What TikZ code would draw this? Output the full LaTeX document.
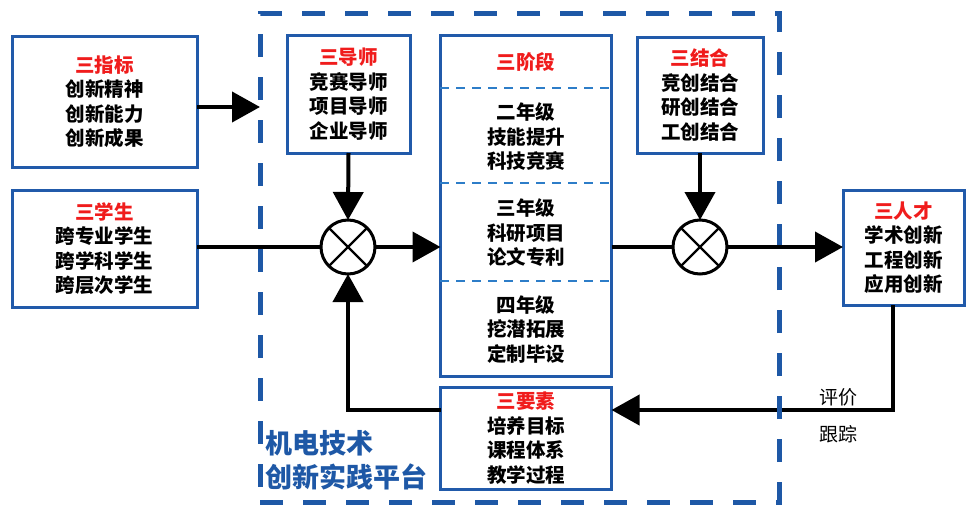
\documentclass[tikz,border=0pt]{standalone}
\usepackage{fontspec}
\newfontfamily\cjk{Noto Sans CJK SC}
\usetikzlibrary{arrows.meta}
\definecolor{frameblue}{RGB}{30,88,166}
\definecolor{boxblue}{RGB}{33,90,170}
\definecolor{divblue}{RGB}{45,125,200}
\definecolor{tred}{RGB}{240,28,28}
\begin{document}
\begin{tikzpicture}[x=1pt,y=-1pt,
  box/.style={draw=boxblue, line width=3pt, fill=white, align=center, inner sep=0pt, outer sep=0pt,
    font=\cjk\bfseries\fontsize{19.5}{24.5}\selectfont},
  txt/.style={align=center, inner sep=0pt, font=\cjk\bfseries\fontsize{19.5}{24.5}\selectfont},
  sum/.style={circle, draw=black, line width=3pt, minimum size=54pt, inner sep=0pt, outer sep=0pt, fill=white},
  arr/.style={line width=4pt, -{Triangle[length=28pt,width=30pt]}},
  ln/.style={line width=4pt},
  framebox/.style={draw=frameblue, line width=5pt, dash pattern=on 23pt off 20pt, inner sep=0pt, outer sep=0pt},
  div/.style={draw=divblue, line width=2.5pt, dash pattern=on 9pt off 7pt},
  lbl/.style={inner sep=0pt, font=\cjk\fontsize{19}{22}\selectfont},
  plat/.style={inner sep=0pt, anchor=west, text=frameblue, font=\cjk\bfseries\fontsize{27}{30}\selectfont}
]
\useasboundingbox (0,0) rectangle (969,506);

% boxes
\node[box, minimum width=185pt, minimum height=131pt] (zb) at (104.5,101.5)
  {\textcolor{tred}{三指标}\\创新精神\\创新能力\\创新成果};
\node[box, minimum width=185pt, minimum height=117pt] (zs) at (104.5,248.5)
  {\textcolor{tred}{三学生}\\跨专业学生\\跨学科学生\\跨层次学生};
\node[box, minimum width=123pt, minimum height=118pt] (ds) at (348.5,94)
  {\textcolor{tred}{三导师}\\竞赛导师\\项目导师\\企业导师};
\node[box, minimum width=126pt, minimum height=116pt] (jh) at (700,95)
  {\textcolor{tred}{三结合}\\竞创结合\\研创结合\\工创结合};
\node[box, minimum width=121pt, minimum height=115pt] (rc) at (903.5,247.5)
  {\textcolor{tred}{三人才}\\学术创新\\工程创新\\应用创新};
\node[box, minimum width=171pt, minimum height=102pt] (ys) at (526,438)
  {\textcolor{tred}{三要素}\\培养目标\\课程体系\\教学过程};

% stage box
\node[box, minimum width=171pt, minimum height=341pt] (stage) at (526,205.5) {};
\draw[div] (440,88) -- (611,88);
\draw[div] (440,183) -- (611,183);
\draw[div] (440,281) -- (611,281);
\node[txt, text=tred] (st0) at (526,62) {三阶段};
\node[txt] (st1) at (526,137) {二年级\\技能提升\\科技竞赛};
\node[txt] (st2) at (526,233) {三年级\\科研项目\\论文专利};
\node[txt] (st3) at (526,329) {四年级\\挖潜拓展\\定制毕设};

% summing junctions
\node[sum] (c1) at (348,247) {};
\node[sum] (c2) at (700,247) {};
\draw[line width=2.2pt] (c1.north west) -- (c1.south east) (c1.north east) -- (c1.south west);
\draw[line width=2.2pt] (c2.north west) -- (c2.south east) (c2.north east) -- (c2.south west);

% frame
\node[framebox, minimum width=519pt, minimum height=489pt, anchor=north west] (frame) at (260,13) {};

% connectors
\draw[arr] (zb.east |- 0,107) -- (frame.west |- 0,107);
\draw[ln] (zs.east |- c1) -- (c1.west);
\draw[arr] (ds.south) -- (c1.north);
\draw[arr] (c1.east) -- (c1.east -| stage.west);
\draw[ln] (stage.east |- c2) -- (c2.west);
\draw[arr] (jh.south) -- (c2.north);
\draw[arr] (c2.east) -- (c2.east -| rc.west);
\coordinate (fb) at (893,410);
\draw[arr, line join=miter] (fb |- rc.south) -- (fb) -- (fb -| ys.east);
\draw[arr, line join=miter] (ys.west |- fb) -- (c1 |- fb) -- (c1.south);

% redraw frame dash crossing on top
\draw[draw=frameblue, line width=5pt] (779,402) -- (779,418);

% labels
\node[lbl] (pj) at (838,397) {评价};
\node[lbl] (gz) at (838,434) {跟踪};
\node[plat] (p1) at (265,443) {机电技术};
\node[plat] (p2) at (265,477) {创新实践平台};
\end{tikzpicture}
\end{document}
